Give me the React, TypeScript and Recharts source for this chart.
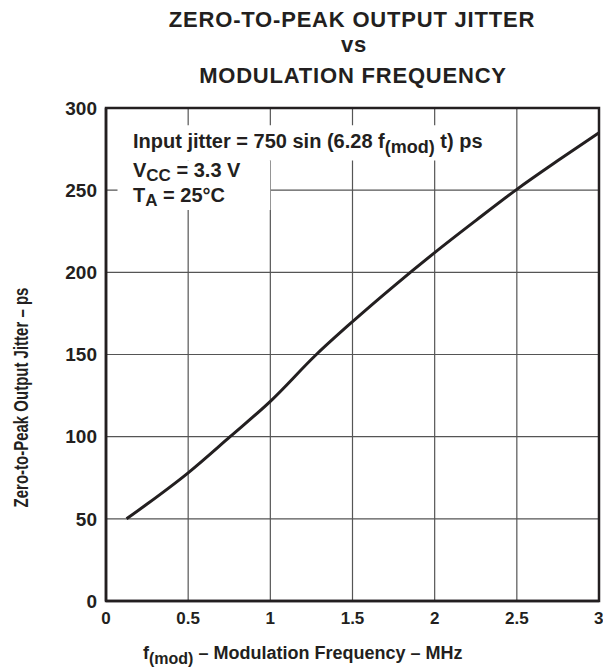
import { LineChart, Line, XAxis, YAxis, CartesianGrid, ReferenceArea } from 'recharts';

// f(mod) in MHz and zero-to-peak output jitter in ps
const freqMHz = [0.125, 0.25, 0.5, 0.755, 1.0, 1.28, 1.5, 1.75, 2.0, 2.25, 2.5, 2.75, 3.0];
const jitterPs = [50, 59, 78, 100, 121.5, 150, 170, 191.5, 212, 231.5, 250.5, 268, 285];

const xTicks = [0, 0.5, 1, 1.5, 2, 2.5, 3];
const yTicks = [0, 50, 100, 150, 200, 250, 300];

const data = freqMHz.map((f, i) => ({ f, jitter: jitterPs[i] }));

const FONT = '"Liberation Sans", Arial, Helvetica, sans-serif';
const INK = '#231f20';

export default function App() {
  return (
    <div style={{ position: 'absolute', left: 0, top: 0, width: 603, height: 669, background: '#fff', fontFamily: FONT }}>
      <LineChart width={603} height={669} data={data} margin={{ top: 108, right: 4, bottom: 38, left: 0 }}>
        <CartesianGrid stroke="#555" strokeWidth={1.2} />
        <XAxis
          dataKey="f"
          type="number"
          domain={[0, 3]}
          ticks={xTicks}
          height={30}
          tickLine={false}
          tickSize={6}
          tickMargin={5}
          axisLine={{ stroke: INK, strokeWidth: 2.5 }}
          tick={{ fill: INK, fontSize: 17, fontWeight: 'bold' }}
        />
        <YAxis
          type="number"
          domain={[0, 300]}
          ticks={yTicks}
          width={106}
          tickLine={false}
          tickSize={6}
          tickMargin={3}
          axisLine={{ stroke: INK, strokeWidth: 2.5 }}
          tick={{ fill: INK, fontSize: 19, fontWeight: 'bold' }}
        />
        {/* white label box that hides the grid behind the conditions text */}
        <ReferenceArea x1={0.07} x2={2.43} y1={268} y2={289.5} fill="#fff" fillOpacity={1} stroke="none" />
        <ReferenceArea x1={0.07} x2={1.0} y1={238} y2={268} fill="#fff" fillOpacity={1} stroke="none" />
        <ReferenceArea x1={0} x2={3} y1={0} y2={300} fill="none" stroke={INK} strokeWidth={2.5} />
        <Line
          dataKey="jitter"
          type="monotone"
          stroke={INK}
          strokeWidth={3}
          dot={false}
          isAnimationActive={false}
        />
      </LineChart>

      <svg width={603} height={669} style={{ position: 'absolute', left: 0, top: 0, pointerEvents: 'none' }}>
        <g fill={INK} fontWeight="bold" fontFamily={FONT}>
          <text x={352} y={27} fontSize={22} letterSpacing={0.8} textAnchor="middle">ZERO-TO-PEAK OUTPUT JITTER</text>
          <text x={354} y={52} fontSize={22} letterSpacing={0.8} textAnchor="middle">vs</text>
          <text x={353} y={83} fontSize={22} letterSpacing={0.8} textAnchor="middle">MODULATION FREQUENCY</text>

          <text x={133} y={148} fontSize={20}>
            Input jitter = 750 sin (6.28 f<tspan dy={5} fontSize={18}>(mod)</tspan>
            <tspan dy={-5}> t) ps</tspan>
          </text>
          <text x={133} y={177} fontSize={20}>
            V<tspan dy={4} fontSize={17}>CC</tspan>
            <tspan dy={-4}> = 3.3 V</tspan>
          </text>
          <text x={133} y={202} fontSize={20}>
            T<tspan dy={4} fontSize={17}>A</tspan>
            <tspan dy={-4}> = 25°C</tspan>
          </text>

          <text x={143} y={659} fontSize={18}>
            f<tspan dy={5} fontSize={16}>(mod)</tspan>
            <tspan dy={-5}> – Modulation Frequency – MHz</tspan>
          </text>

          <text transform="translate(28,397.5) rotate(-90) scale(0.75,1)" fontSize={20} textAnchor="middle">
            Zero-to-Peak Output Jitter – ps
          </text>
        </g>
      </svg>
    </div>
  );
}
